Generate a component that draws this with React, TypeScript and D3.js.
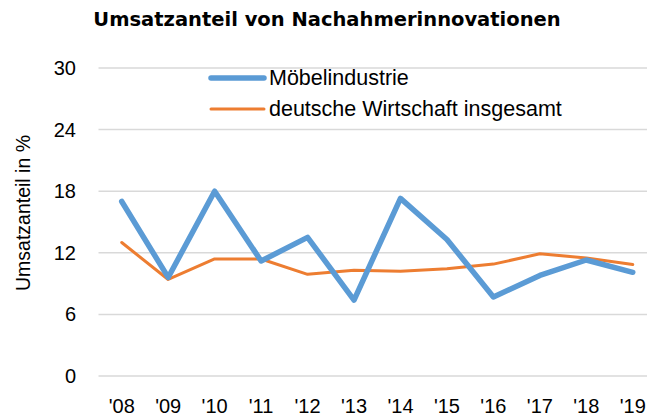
import React from "react";
import * as d3 from "d3";

const years = ["'08", "'09", "'10", "'11", "'12", "'13", "'14", "'15", "'16", "'17", "'18", "'19"];
const moebel = [17.0, 9.6, 18.0, 11.2, 13.5, 7.4, 17.3, 13.3, 7.7, 9.8, 11.3, 10.1];
const gesamt = [13.0, 9.4, 11.4, 11.4, 9.9, 10.3, 10.2, 10.45, 10.9, 11.9, 11.5, 10.85];
const yTicks = [0, 6, 12, 18, 24, 30];
const title = "Umsatzanteil von Nachahmerinnovationen";
const yTitle = "Umsatzanteil in %";
const seriesNames = ["Möbelindustrie", "deutsche Wirtschaft insgesamt"];

export default function App() {
  const W = 647, H = 418;
  const x = d3.scalePoint<string>().domain(years).range([98.5, 656]).padding(0.5);
  const y = d3.scaleLinear().domain([0, 30]).range([376, 68]);
  const line = d3.line<number>()
    .x((_, i) => x(years[i]) as number)
    .y((d) => y(d));
  const font = "'Liberation Sans', Arial, sans-serif";
  return (
    <svg width={W} height={H} style={{ position: "absolute", left: 0, top: 0 }} fontFamily={font}>
      <rect width={W} height={H} fill="#fff" />
      <text x={327} y={26} textAnchor="middle" fontFamily="'DejaVu Sans', Verdana, sans-serif" fontWeight="bold" fontSize={19.5} fill="#000">{title}</text>
      {yTicks.map((t) => (
        <g key={t}>
          <line x1={98.5} x2={656} y1={y(t)} y2={y(t)} stroke="#d9d9d9" strokeWidth={1.5} />
          <text x={76} y={y(t) + 7} textAnchor="end" fontSize={20} fill="#000">{t}</text>
        </g>
      ))}
      <text transform={`translate(30,213) rotate(-90)`} textAnchor="middle" fontSize={19.5} fill="#000">{yTitle}</text>
      {years.map((yr) => (
        <text key={yr} x={x(yr) as number} y={413} textAnchor="middle" fontSize={20} fill="#000">{yr}</text>
      ))}
      <path d={line(gesamt) || ""} fill="none" stroke="#ED7D31" strokeWidth={3} strokeLinejoin="round" strokeLinecap="round" />
      <path d={line(moebel) || ""} fill="none" stroke="#5B9BD5" strokeWidth={5.5} strokeLinejoin="round" strokeLinecap="round" />
      <line x1={211} x2={264} y1={78} y2={78} stroke="#5B9BD5" strokeWidth={5.5} strokeLinecap="round" />
      <text x={269} y={85} fontSize={21.5} fill="#000">{seriesNames[0]}</text>
      <line x1={211} x2={264} y1={109} y2={109} stroke="#ED7D31" strokeWidth={3} strokeLinecap="round" />
      <text x={269} y={116} fontSize={21.5} fill="#000">{seriesNames[1]}</text>
    </svg>
  );
}
